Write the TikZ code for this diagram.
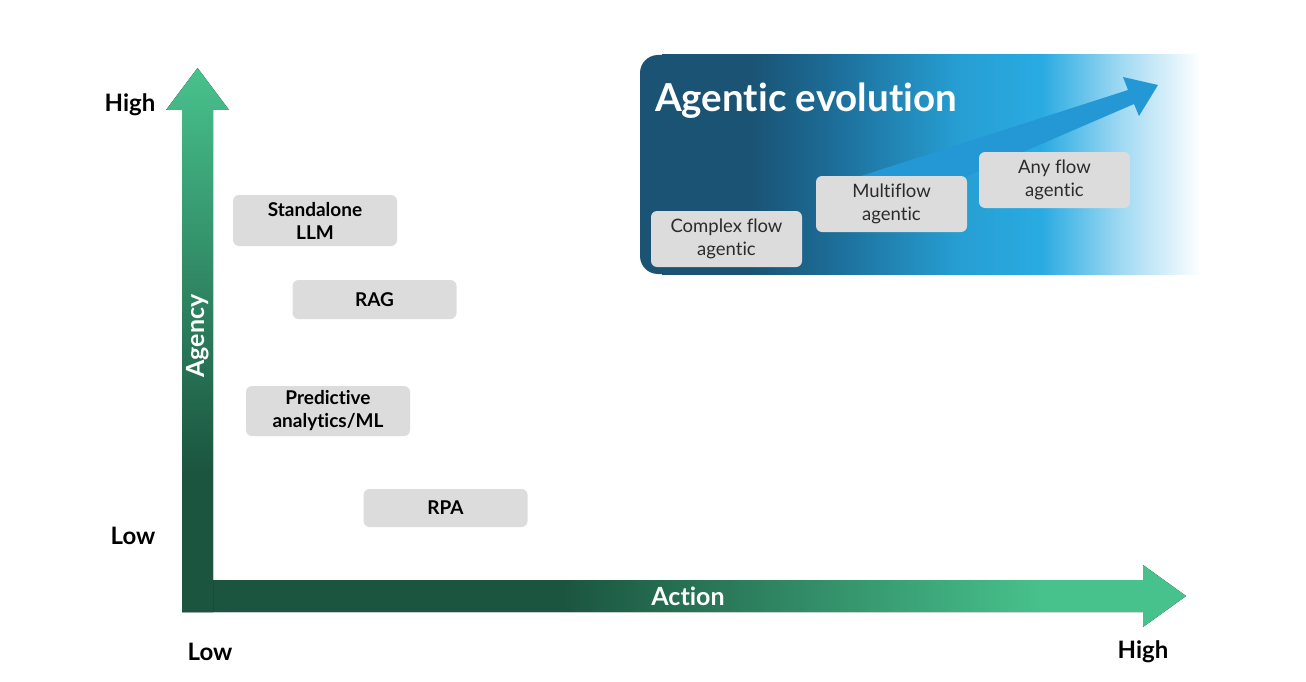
\documentclass[tikz,border=0pt]{standalone}
\usepackage{fontspec}
\setmainfont{Lato}[Ligatures=NoCommon]
\usetikzlibrary{arrows.meta}

\definecolor{axdark}{HTML}{1B5540}
\definecolor{axlight}{HTML}{48C28D}
\definecolor{evoldark}{HTML}{1A5374}
\definecolor{evolmid}{HTML}{1C6B95}
\definecolor{evolblue}{HTML}{29ABE2}
\definecolor{evolpale}{HTML}{A4DBF3}
\definecolor{evolarrow}{HTML}{2398D4}
\definecolor{boxgray}{HTML}{DCDCDC}
\definecolor{boxtext}{HTML}{2B2B2B}

\pgfdeclareverticalshading{agencyfade}{100bp}{color(0bp)=(axdark); color(38bp)=(axdark); color(75bp)=(axlight); color(100bp)=(axlight)}
\pgfdeclarehorizontalshading{actionfade}{100bp}{color(0bp)=(axdark); color(44bp)=(axdark); color(68bp)=(axlight); color(100bp)=(axlight)}
\pgfdeclarehorizontalshading{evolfade}{100bp}{color(0bp)=(evoldark); color(33bp)=(evoldark); color(40bp)=(evolmid); color(52bp)=(evolblue!80!evolmid); color(59.5bp)=(evolblue); color(67bp)=(evolpale); color(74bp)=(white); color(100bp)=(white)}

\tikzset{
  techbox/.style={fill=boxgray, rounded corners=6pt, inner sep=0pt, minimum width=164pt,
    align=center, text=black, font=\fontsize{19}{23}\selectfont\bfseries},
  evolbox/.style={fill=boxgray, rounded corners=6pt, inner sep=0pt, minimum width=151pt,
    minimum height=56pt, align=center, text=boxtext, font=\fontsize{18.5}{23}\selectfont},
  levellabel/.style={text=black, font=\fontsize{24}{28}\selectfont\bfseries},
  axisname/.style={text=white, font=\fontsize{25}{28}\selectfont\bfseries}
}

\begin{document}
\begin{tikzpicture}[x=1pt,y=-1pt]
\useasboundingbox (0,0) rectangle (1306,682);
\fill[white] (0,0) rectangle (1306,682);

\fill[evoldark, rounded corners=18pt] (640,55) rectangle (700,274);
\fill[shading=evolfade] (662,55) rectangle (1212,274);
\fill[evolarrow] (858,177) -- (1128,90) -- (1123,77) -- (1158,85) -- (1139,116) -- (1134,104) -- (965,177) -- cycle;
\node[evolbox] (complexflow) at (726.5,239) {Complex flow\\agentic};
\node[evolbox] (multiflow) at (891.5,204) {Multiflow\\agentic};
\node[evolbox] (anyflow) at (1054.5,180) {Any flow\\agentic};
\node[anchor=base west, inner sep=0pt, text=white, font=\fontsize{38.5}{42}\selectfont\bfseries] (evoltitle) at (655,112) {Agentic evolution};

\fill[shading=actionfade] (182,580) -- (1143,580) -- (1143,565) -- (1186,596) -- (1143,627) -- (1143,612) -- (182,612) -- cycle;
\fill[shading=agencyfade] (182,612) -- (182,110) -- (166,110) -- (197.5,68) -- (229,110) -- (213,110) -- (213,612) -- cycle;
\node[axisname, rotate=90] (agency) at (197.5,336) {Agency};
\node[axisname] (action) at (688,596) {Action};

\node[levellabel] (agencyhigh) at (130,105) {High};
\node[levellabel] (agencylow) at (133,536) {Low};
\node[levellabel] (actionlow) at (210,652) {Low};
\node[levellabel] (actionhigh) at (1143,652) {High};

\node[techbox, minimum height=51pt] (llm) at (315,220.5) {Standalone\\LLM};
\node[techbox, minimum height=39pt] (rag) at (374.5,299.5) {RAG};
\node[techbox, minimum height=50pt] (predictive) at (328,411) {Predictive\\analytics/ML};
\node[techbox, minimum height=38pt] (rpa) at (445.5,508) {RPA};
\end{tikzpicture}
\end{document}
